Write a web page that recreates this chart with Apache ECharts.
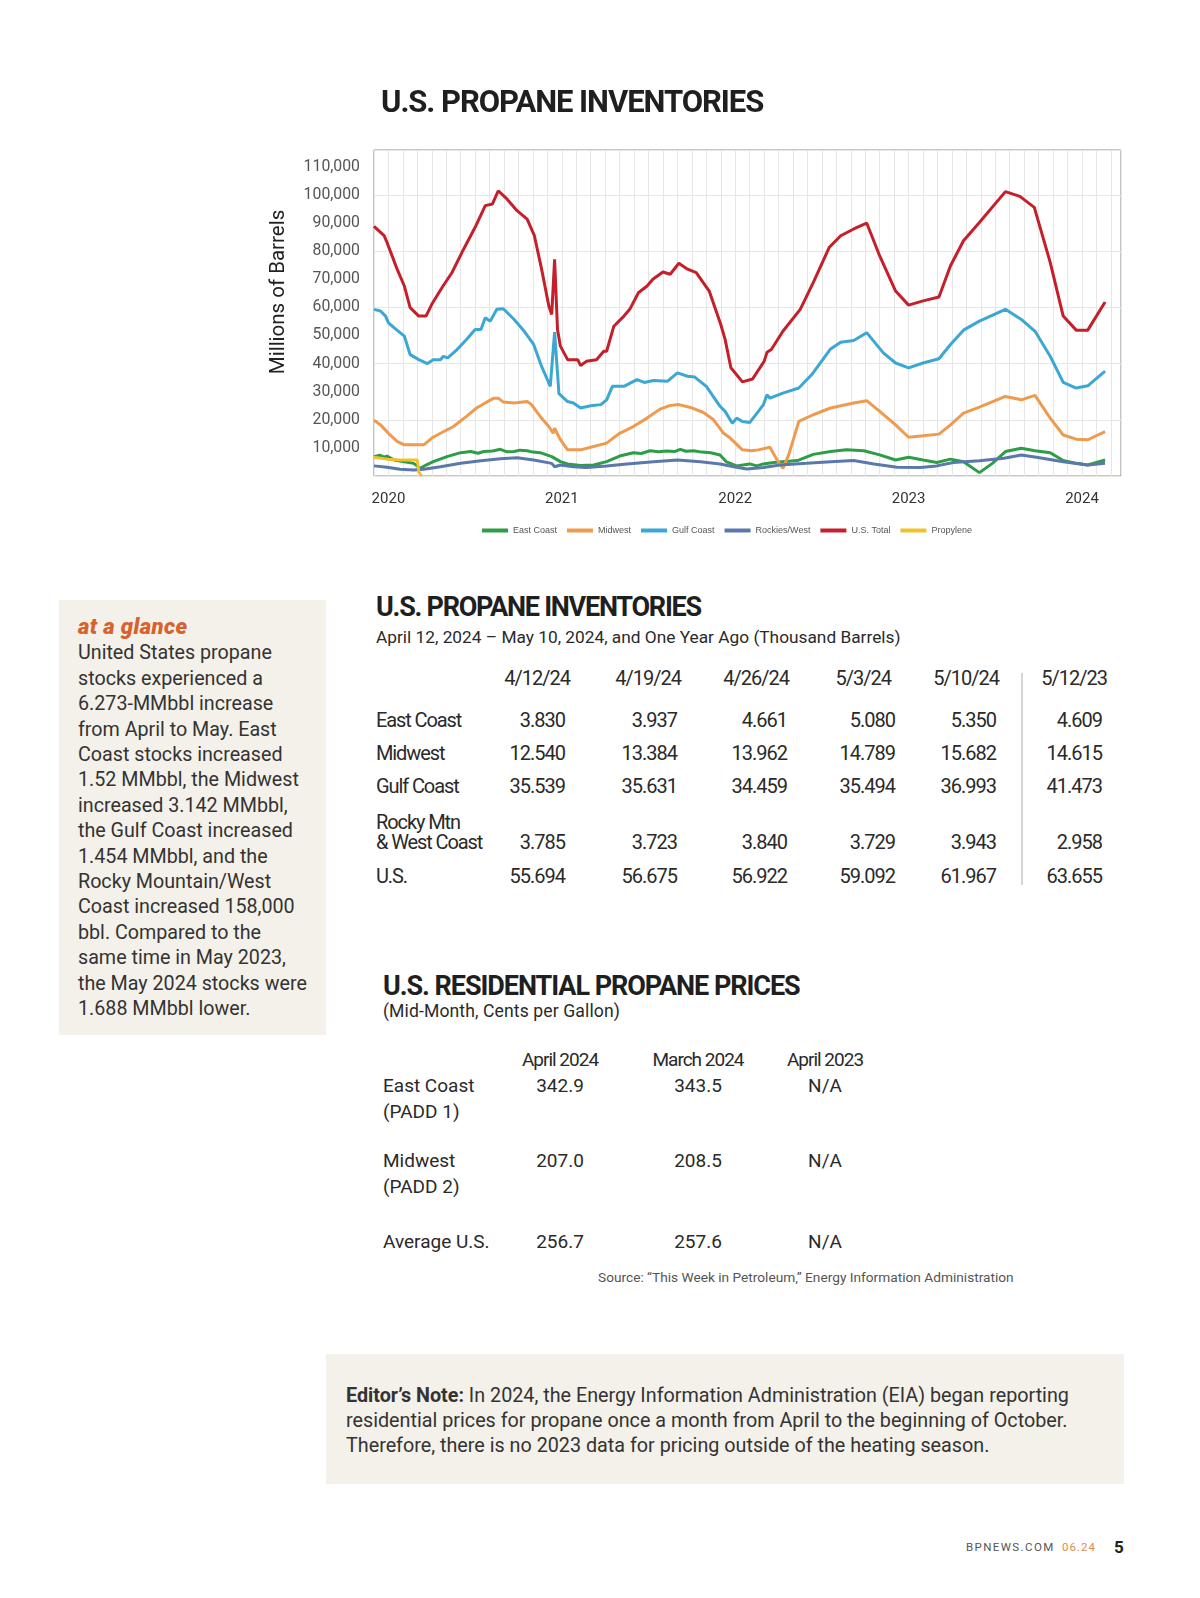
<!DOCTYPE html>
<html><head><meta charset="utf-8">
<script src="https://cdn.jsdelivr.net/npm/echarts@6/dist/echarts.min.js"></script>
<style>
html,body{margin:0;padding:0;background:#fff;}
body{width:1200px;height:1598px;position:relative;overflow:hidden;font-family:Roboto,'Noto Sans',sans-serif;color:#2a2a2a;}
#chart{position:absolute;left:0;top:0;width:1200px;height:560px;}
.t{position:absolute;white-space:nowrap;line-height:1;}
.box{position:absolute;background:#f4f1ea;}
</style></head><body>
<div class="box" style="left:59px;top:600px;width:267px;height:435px;"></div>
<div class="box" style="left:326px;top:1354px;width:798px;height:130px;"></div>
<div style="position:absolute;left:1021px;top:673px;width:2px;height:212px;background:#d4d4d4;"></div>
<div id="chart"></div>
<script>
// ---------- DATA ----------
// x = months since Jan 2020, y = thousand barrels (axis units)
const eastCoast = [[-1,6900],[-0.6,7400],[-0.3,6700],[-0.1,7100],[0.4,5700],[1.1,5100],[1.75,4500],[2.2,2700],[2.6,3900],[3.1,5100],[4.05,6900],[5.0,8300],[5.7,8700],[6.2,8100],[6.6,8700],[7.2,8900],[7.75,9500],[8.2,8600],[8.7,8700],[9.1,9200],[9.6,9000],[10.0,8500],[10.5,8300],[11.3,6900],[11.9,5100],[12.4,4300],[13.3,3700],[14.2,3900],[15.1,5100],[16.0,7100],[16.95,8300],[17.5,8000],[18.1,9000],[18.7,8600],[19.25,8900],[19.8,8700],[20.2,9500],[20.6,8800],[21.1,9000],[21.7,8500],[22.3,8300],[22.95,7500],[23.4,5000],[24.1,3600],[25.0,4300],[25.5,3600],[25.95,4300],[26.65,4800],[28.3,5500],[29.4,7700],[30.6,8700],[31.7,9300],[32.9,9000],[34.0,7500],[35.1,5700],[36.0,6700],[37.0,5700],[37.95,4800],[38.9,6000],[39.8,5100],[40.9,1200],[41.8,4500],[42.7,8700],[43.8,9900],[44.75,9000],[45.8,8300],[46.7,5500],[47.6,4500],[48.4,3900],[49.6,5700]];
const midwest = [[-1,19800],[-0.55,18200],[0.0,15200],[0.6,12300],[1.1,11100],[2.45,11100],[3.0,13500],[3.6,15200],[4.5,17600],[5.4,21200],[6.1,24200],[6.7,26000],[7.3,27700],[7.6,27700],[7.95,26300],[8.7,26000],[9.6,26500],[9.9,25400],[10.5,21200],[11.1,17600],[11.4,15200],[11.5,17000],[11.9,12900],[12.4,9300],[13.3,9300],[14.2,10500],[15.1,11700],[16.0,15200],[16.95,17600],[17.9,20600],[18.8,23800],[19.5,25100],[20.1,25400],[20.9,24400],[21.8,22600],[22.5,20000],[23.2,15200],[23.65,13500],[24.5,9300],[25.15,9000],[25.6,9300],[26.4,10200],[26.9,5700],[27.3,2700],[27.7,7500],[28.4,19400],[29.4,21800],[30.6,24200],[32.2,26000],[33.1,26800],[34.0,23000],[35.1,18200],[36.0,13800],[37.0,14300],[38.1,14900],[38.9,18200],[39.8,22400],[40.9,24500],[42.7,28300],[43.8,27100],[44.75,28700],[45.8,20600],[46.7,14600],[47.6,13100],[48.4,12900],[49.6,15800]];
const gulfCoast = [[-1,59300],[-0.55,58700],[-0.2,56900],[0.0,54500],[0.4,52700],[1.1,49800],[1.5,43200],[2.1,41400],[2.7,40000],[3.1,41400],[3.6,41400],[3.8,42600],[4.1,42000],[4.75,45000],[5.4,48600],[6.0,52100],[6.4,52100],[6.7,56300],[7.05,55100],[7.5,59300],[7.95,59500],[8.7,55700],[9.4,51500],[10.05,46800],[10.6,39000],[11.2,31900],[11.3,31300],[11.5,51200],[11.7,36700],[11.8,29300],[12.4,26500],[12.8,26000],[13.3,24200],[14.0,25000],[14.7,25400],[15.1,27100],[15.5,31900],[16.3,31900],[17.2,34300],[17.7,33300],[18.35,34000],[19.3,33700],[20.0,36700],[20.7,35500],[21.2,35200],[22.0,31900],[22.95,24800],[23.3,23000],[23.8,18800],[24.1,20600],[24.5,19400],[25.0,19000],[25.6,23000],[25.95,25400],[26.2,28900],[26.4,27700],[27.3,29500],[28.4,31300],[29.3,36100],[30.6,45200],[31.3,47600],[32.2,48200],[33.1,51000],[34.25,43800],[35.1,40200],[36.0,38500],[37.0,40200],[38.1,41700],[38.9,46800],[39.8,51900],[40.9,55100],[42.7,59300],[43.8,55700],[44.75,51500],[45.8,42600],[46.7,33300],[47.6,31300],[48.4,32100],[49.6,37300]];
const rockiesWest = [[-1,3600],[-0.1,3100],[0.8,2400],[1.75,2100],[2.45,2400],[3.6,3300],[5.0,4500],[6.4,5400],[7.75,6100],[8.9,6500],[10.05,5700],[11.3,4500],[11.5,3300],[11.9,3900],[12.8,3300],[13.7,3000],[15.1,3600],[16.5,4300],[18.35,5100],[20.0,5700],[21.6,5100],[22.95,4300],[23.9,3300],[24.8,2500],[25.95,3000],[27.1,3900],[28.95,4500],[30.6,5100],[32.2,5500],[33.6,4300],[35.2,3100],[36.8,3000],[37.95,3600],[39.1,4800],[40.9,5400],[42.6,6300],[43.8,7500],[44.85,6700],[46.7,5100],[48.4,3900],[49.6,4500]];
const usTotal = [[-1,88800],[-0.3,85500],[-0.1,83100],[0.3,77700],[0.6,73600],[1.1,67600],[1.5,59900],[2.1,56900],[2.6,56900],[3.0,61100],[3.7,67000],[4.4,72400],[5.2,80700],[6.0,88500],[6.7,96200],[7.2,96800],[7.6,101500],[8.2,98600],[8.9,94400],[9.6,91400],[10.1,85500],[10.6,73600],[11.1,60500],[11.3,57500],[11.5,77100],[11.7,52100],[11.9,46200],[12.4,41400],[13.1,41400],[13.3,39300],[13.7,40800],[14.4,41400],[14.9,44400],[15.1,44400],[15.6,53300],[16.3,56900],[16.7,59300],[17.3,65200],[17.9,67600],[18.3,70000],[19.0,72600],[19.5,71800],[20.1,75700],[20.7,73600],[21.3,72400],[22.2,65800],[23.0,53900],[23.3,48600],[23.7,38500],[24.5,33500],[25.2,34500],[26.0,40800],[26.2,44000],[26.5,45000],[27.3,51500],[28.5,59300],[29.4,68800],[30.5,81300],[31.3,85500],[32.2,87900],[33.1,90000],[34.0,78300],[35.1,65800],[36.0,60800],[37.0,62300],[38.1,63700],[38.9,74800],[39.8,83700],[40.9,90200],[42.7,101200],[43.7,99500],[44.7,95600],[45.8,76000],[46.7,56900],[47.6,51900],[48.4,51900],[49.6,61900]];
const propylene = [[-1,6700],[-0.1,6000],[0.8,5700],[2.0,5700],[2.1,1500],[2.3,0]];
const seriesNames = ['East Coast','Midwest','Gulf Coast','Rockies/West','U.S. Total','Propylene'];
const seriesColors = ['#2e9d47','#ee9b50','#3ba7d2','#5a78ab','#c41f2b','#f0c22a'];
const firstYear = 2020;
const yTicks = [10000,20000,30000,40000,50000,60000,70000,80000,90000,100000,110000];

const invDates = ['4/12/24','4/19/24','4/26/24','5/3/24','5/10/24','5/12/23'];
const invRegions = ['East Coast','Midwest','Gulf Coast','Rocky Mtn<br>&amp; West Coast','U.S.'];
const invEast = ['3.830','3.937','4.661','5.080','5.350','4.609'];
const invMidwest = ['12.540','13.384','13.962','14.789','15.682','14.615'];
const invGulf = ['35.539','35.631','34.459','35.494','36.993','41.473'];
const invRocky = ['3.785','3.723','3.840','3.729','3.943','2.958'];
const invUS = ['55.694','56.675','56.922','59.092','61.967','63.655'];

const priceCols = ['April 2024','March 2024','April 2023'];
const priceRegions = ['East Coast<br>(PADD 1)','Midwest<br>(PADD 2)','Average U.S.'];
const priceEast = ['342.9','343.5','N/A'];
const priceMidwest = ['207.0','208.5','N/A'];
const priceAvg = ['256.7','257.6','N/A'];

const glanceLines = ['United States propane','stocks experienced a','6.273-MMbbl increase','from April to May. East','Coast stocks increased','1.52 MMbbl, the Midwest','increased 3.142 MMbbl,','the Gulf Coast increased','1.454 MMbbl, and the','Rocky Mountain/West','Coast increased 158,000','bbl. Compared to the','same time in May 2023,','the May 2024 stocks were','1.688 MMbbl lower.'];
const noteLines = ['<b>Editor\u2019s Note:</b> In 2024, the Energy Information Administration (EIA) began reporting','residential prices for propane once a month from April to the beginning of October.','Therefore, there is no 2023 data for pricing outside of the heating season.'];

// ---------- TEXT LAYOUT ----------
function T(html, x, base, size, o) {
  o = o || {};
  const d = document.createElement('div');
  d.className = 't';
  d.style.fontSize = size + 'px';
  d.style.top = (base - 0.8415 * size) + 'px';
  const al = o.align || 'left';
  if (al === 'left') d.style.left = x + 'px';
  else if (al === 'right') { d.style.right = (1200 - x) + 'px'; d.style.textAlign = 'right'; }
  else { d.style.left = (x - 150) + 'px'; d.style.width = '300px'; d.style.textAlign = 'center'; }
  if (o.ls !== undefined) d.style.letterSpacing = o.ls + 'px';
  if (o.w) d.style.fontWeight = o.w;
  if (o.c) d.style.color = o.c;
  if (o.it) d.style.fontStyle = 'italic';
  d.innerHTML = html;
  document.body.appendChild(d);
  return d;
}
T('U.S. PROPANE INVENTORIES', 381, 112, 31, {w:700, ls:-1.05, c:'#1f1f1f'});

// sidebar
T('at a glance', 78, 635, 22, {w:900, it:true, c:'#d8612c', ls:0.4});
glanceLines.forEach((s,i) => T(s, 78, 660 + i*25.4, 19.7, {c:'#333'}));

// inventory table
T('U.S. PROPANE INVENTORIES', 376, 617, 27, {w:700, ls:-1.25, c:'#1f1f1f'});
T('April 12, 2024 \u2013 May 10, 2024, and One Year Ago (Thousand Barrels)', 376, 644, 17.3, {ls:0});
const invHeadRight = [570,681,789,891,999,1107];
const invValRight = [565,677,787,895,996,1102];
invDates.forEach((s,i) => T(s, invHeadRight[i], 685, 20, {align:'right', ls:-1}));
const invRows = [invEast, invMidwest, invGulf, invRocky, invUS];
const invBase = [727,760,793,849,883];
invRows.forEach((row,r) => {
  const parts = invRegions[r].split('<br>');
  parts.forEach((p,k) => T(p, 376, invBase[r] - (parts.length-1-k)*20, 20, {ls:-1.1}));
  row.forEach((v,i) => T(v, invValRight[i], invBase[r], 20, {align:'right', ls:-1}));
});

// price table
T('U.S. RESIDENTIAL PROPANE PRICES', 383, 996, 27, {w:700, ls:-1.05, c:'#1f1f1f'});
T('(Mid-Month, Cents per Gallon)', 383, 1018, 17.6, {ls:0.1});
const priceCenters = [560,698,825];
priceCols.forEach((s,i) => T(s, priceCenters[i], 1066, 19, {align:'center', ls:-1}));
const priceRows = [priceEast, priceMidwest, priceAvg];
const priceBase = [1092,1167,1248];
priceRows.forEach((row,r) => {
  const parts = priceRegions[r].split('<br>');
  parts.forEach((p,k) => T(p, 383, priceBase[r] + k*25.5, 19, {}));
  row.forEach((v,i) => T(v, priceCenters[i], priceBase[r], 19, {align:'center'}));
});
T('Source: \u201cThis Week in Petroleum,\u201d Energy Information Administration', 598, 1283, 13.7, {c:'#555', ls:0});

// editor's note
noteLines.forEach((s,i) => T(s, 346, 1403 + i*25, 19.75, {ls:0, c:'#333'}));

// footer
T('BPNEWS.COM', 966, 1552, 11.5, {c:'#555', ls:1.4});
T('06.24', 1062, 1552, 11.5, {c:'#e08b4f', ls:1});
T('5', 1114, 1553, 17, {w:700, c:'#222'});

// ---------- CHART ----------
const chart = echarts.init(document.getElementById('chart'), null, {renderer:'canvas'});
const allData = [eastCoast, midwest, gulfCoast, rockiesWest, usTotal, propylene];
const ff = 'Roboto, "Noto Sans", sans-serif';
chart.setOption({
  animation: false,
  textStyle: {fontFamily: ff},
  grid: {left:374, top:150, width:747, height:326, show:true, borderColor:'#8c8c8c', borderWidth:1, backgroundColor:'#fff'},
  legend: {
    left: 477, top: 521, icon: 'rect', itemWidth: 26, itemHeight: 4, itemGap: 10,
    textStyle: {fontSize: 9, color: '#555', fontFamily: '"Liberation Sans", Arial, sans-serif'},
    data: seriesNames
  },
  xAxis: {
    type: 'value', min: -1, max: 50.7, interval: 1,
    axisLine: {show:false}, axisTick: {show:false},
    splitLine: {show:true, lineStyle:{color:'#e6e6e6', width:1}},
    axisLabel: {
      color:'#333', fontSize:15, margin:16, fontFamily: ff, showMaxLabel: false,
      formatter: v => (v % 12 === 0 && v >= 0) ? String(firstYear + v/12) : ''
    }
  },
  yAxis: {
    type: 'value', min: 0, max: 116000, interval: 10000,
    axisLine: {show:false}, axisTick: {show:false},
    splitLine: {show:true, lineStyle:{color:['#e6e6e6','rgba(0,0,0,0)']}},
    axisLabel: {
      color:'#555', fontSize:15.8, margin:14, fontFamily: ff,
      formatter: v => yTicks.indexOf(v) >= 0 ? v.toLocaleString('en-US') : ''
    }
  },
  graphic: [{
    type:'text', x: 279, y: 292, rotation: Math.PI/2,
    style: {text:'Millions of Barrels', fill:'#222', font:'20.5px Roboto, "Noto Sans", sans-serif', align:'center', verticalAlign:'middle'}
  }],
  series: allData.map((d,i) => ({
    name: seriesNames[i], type:'line', data: d, showSymbol:false, symbol:'none',
    lineStyle: {width: 3, color: seriesColors[i]}, itemStyle: {color: seriesColors[i]},
    z: i === 5 ? 3 : 2
  }))
});
</script>
</body></html>
